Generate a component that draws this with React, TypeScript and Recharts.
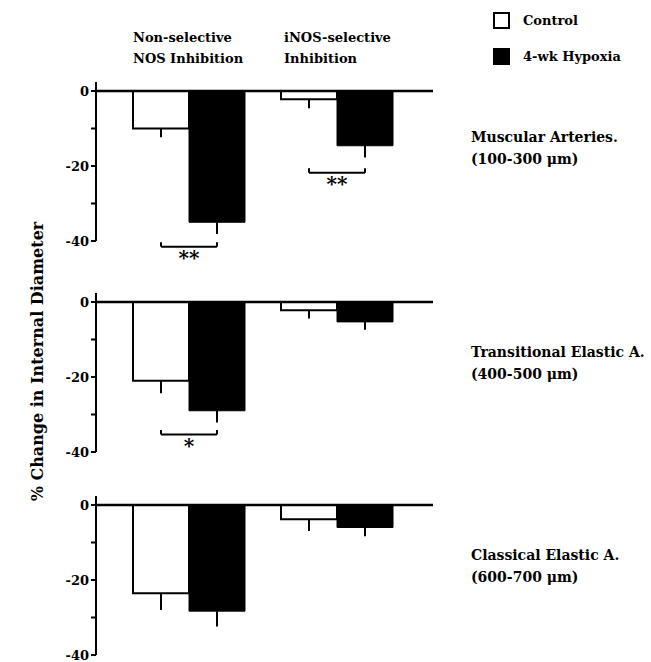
import React from 'react';
import { BarChart, Bar, XAxis, YAxis, ErrorBar, ReferenceLine, ReferenceDot } from 'recharts';

// treatment groups (x categories)
const groups = ['Non-selective NOS Inhibition', 'iNOS-selective Inhibition'];
const yTicks = [-40, -30, -20, -10, 0];

// Muscular arteries (100-300 um)
const muscularControl = [-10, -2.2];
const muscularControlErr = [2.3, 2.4];
const muscularHypoxia = [-35, -14.6];
const muscularHypoxiaErr = [3.1, 3.1];
const muscularSig = [
  { group: 1, level: -41.5, stars: '**' },
  { group: 2, level: -21.8, stars: '**' },
];

// Transitional elastic arteries (400-500 um)
const transitionalControl = [-21, -2.2];
const transitionalControlErr = [3.3, 2.2];
const transitionalHypoxia = [-29, -5.3];
const transitionalHypoxiaErr = [3.1, 2.1];
const transitionalSig = [{ group: 1, level: -35.3, stars: '*' }];

// Classical elastic arteries (600-700 um)
const classicalControl = [-23.5, -3.8];
const classicalControlErr = [4.5, 3.1];
const classicalHypoxia = [-28.3, -6];
const classicalHypoxiaErr = [4.1, 2.3];
const classicalSig: { group: number; level: number; stars: string }[] = [];

const FONT = '"DejaVu Serif", "Liberation Serif", serif';
const CHART_LEFT = 60;
const CHART_W = 373;
const AXIS_W = 36;
const PAD_L = 19;
const PAD_R = 22;
const BAR = 56;
const Y_MAX = 2.4;
const PLOT_H = 159;
const MARGIN_TOP = 12;

// hidden numeric axis that lines up with the category bands, for the brackets
const plotW = CHART_W - AXIS_W;
const band = (plotW - PAD_L - PAD_R) / 2;
const posDomain = [1 - (PAD_L + band / 2) / band, 2 + (PAD_R + band / 2) / band];
const barOffset = BAR / 2 / band;
const tipUnits = 1.2;

function Panel({ top, bottom, control, controlErr, hypoxia, hypoxiaErr, sig }: any) {
  const data = groups.map((g, i) => ({
    group: g,
    pos: i + 1,
    control: control[i],
    controlErr: [controlErr[i], 0],
    hypoxia: hypoxia[i],
    hypoxiaErr: [hypoxiaErr[i], 0],
  }));

  return (
    <div style={{ position: 'absolute', left: CHART_LEFT, top }}>
      <BarChart
        width={CHART_W}
        height={MARGIN_TOP + PLOT_H + bottom}
        data={data}
        margin={{ top: MARGIN_TOP, right: 0, bottom, left: 0 }}
        barSize={BAR}
        barGap={0}
      >
        <XAxis dataKey="group" hide padding={{ left: PAD_L, right: PAD_R }} />
        <XAxis xAxisId="pos" dataKey="pos" type="number" domain={posDomain} hide allowDataOverflow />
        <YAxis
          domain={[-40, Y_MAX]}
          ticks={yTicks}
          interval={0}
          allowDataOverflow
          width={AXIS_W}
          tickSize={5}
          tickFormatter={(v: number) => (v % 20 === 0 ? String(v) : '')}
          axisLine={{ stroke: '#000', strokeWidth: 2 }}
          tickLine={{ stroke: '#000', strokeWidth: 2 }}
          tick={{ fill: '#000', fontSize: 13, fontWeight: 'bold', fontFamily: FONT }}
        />
        <Bar dataKey="control" fill="#fff" stroke="#000" strokeWidth={2} isAnimationActive={false}>
          <ErrorBar dataKey="controlErr" width={0} stroke="#000" strokeWidth={2} direction="y" />
        </Bar>
        <Bar dataKey="hypoxia" fill="#000" stroke="#000" strokeWidth={1} isAnimationActive={false}>
          <ErrorBar dataKey="hypoxiaErr" width={0} stroke="#000" strokeWidth={2} direction="y" />
        </Bar>
        <ReferenceLine y={0} stroke="#000" strokeWidth={2.5} />
        {sig.map((s: any, i: number) => [
          <ReferenceLine
            key={'b' + i}
            xAxisId="pos"
            ifOverflow="visible"
            stroke="#000"
            strokeWidth={2}
            segment={[
              { x: s.group - barOffset, y: s.level },
              { x: s.group + barOffset, y: s.level },
            ]}
          />,
          <ReferenceLine
            key={'l' + i}
            xAxisId="pos"
            ifOverflow="visible"
            stroke="#000"
            strokeWidth={2}
            segment={[
              { x: s.group - barOffset, y: s.level },
              { x: s.group - barOffset, y: s.level + tipUnits },
            ]}
          />,
          <ReferenceLine
            key={'r' + i}
            xAxisId="pos"
            ifOverflow="visible"
            stroke="#000"
            strokeWidth={2}
            segment={[
              { x: s.group + barOffset, y: s.level },
              { x: s.group + barOffset, y: s.level + tipUnits },
            ]}
          />,
          <ReferenceDot
            key={'s' + i}
            xAxisId="pos"
            x={s.group}
            y={s.level}
            r={0}
            ifOverflow="visible"
            label={{
              value: s.stars,
              position: 'bottom',
              offset: 4,
              fill: '#000',
              fontSize: 20,
              fontWeight: 'bold',
              fontFamily: FONT,
            }}
          />,
        ])}
      </BarChart>
    </div>
  );
}

const textStyle: React.CSSProperties = {
  position: 'absolute',
  fontFamily: FONT,
  fontWeight: 'bold',
  fontSize: 13,
  lineHeight: '21px',
  color: '#000',
  whiteSpace: 'nowrap',
};

const sideStyle: React.CSSProperties = { ...textStyle, fontSize: 14, lineHeight: '22px', left: 471 };

export default function App() {
  return (
    <div style={{ position: 'absolute', left: 0, top: 0, width: 651, height: 662, background: '#fff', overflow: 'hidden' }}>
      <div style={{ ...textStyle, left: 133, top: 27 }}>
        Non-selective
        <br />
        NOS Inhibition
      </div>
      <div style={{ ...textStyle, left: 284, top: 27 }}>
        iNOS-selective
        <br />
        Inhibition
      </div>

      {/* legend */}
      <div style={{ position: 'absolute', left: 493, top: 12, width: 13, height: 13, border: '2px solid #000', background: '#fff' }} />
      <div style={{ ...textStyle, left: 523, top: 10 }}>Control</div>
      <div style={{ position: 'absolute', left: 493, top: 48, width: 17, height: 17, background: '#000' }} />
      <div style={{ ...textStyle, left: 523, top: 46 }}>4-wk Hypoxia</div>

      <div style={{ position: 'absolute', left: 37, top: 362, width: 0, height: 0 }}>
        <div
          style={{
            ...textStyle,
            fontSize: 16,
            left: -160,
            top: -11,
            width: 320,
            textAlign: 'center',
            transform: 'rotate(-90deg)',
          }}
        >
          % Change in Internal Diameter
        </div>
      </div>

      <Panel top={70} bottom={30} control={muscularControl} controlErr={muscularControlErr} hypoxia={muscularHypoxia} hypoxiaErr={muscularHypoxiaErr} sig={muscularSig} />
      <Panel top={281} bottom={30} control={transitionalControl} controlErr={transitionalControlErr} hypoxia={transitionalHypoxia} hypoxiaErr={transitionalHypoxiaErr} sig={transitionalSig} />
      <Panel top={484} bottom={7} control={classicalControl} controlErr={classicalControlErr} hypoxia={classicalHypoxia} hypoxiaErr={classicalHypoxiaErr} sig={classicalSig} />

      <div style={{ ...sideStyle, top: 126 }}>
        Muscular Arteries.
        <br />
        (100-300 μm)
      </div>
      <div style={{ ...sideStyle, top: 341 }}>
        Transitional Elastic A.
        <br />
        (400-500 μm)
      </div>
      <div style={{ ...sideStyle, top: 544 }}>
        Classical Elastic A.
        <br />
        (600-700 μm)
      </div>
    </div>
  );
}
